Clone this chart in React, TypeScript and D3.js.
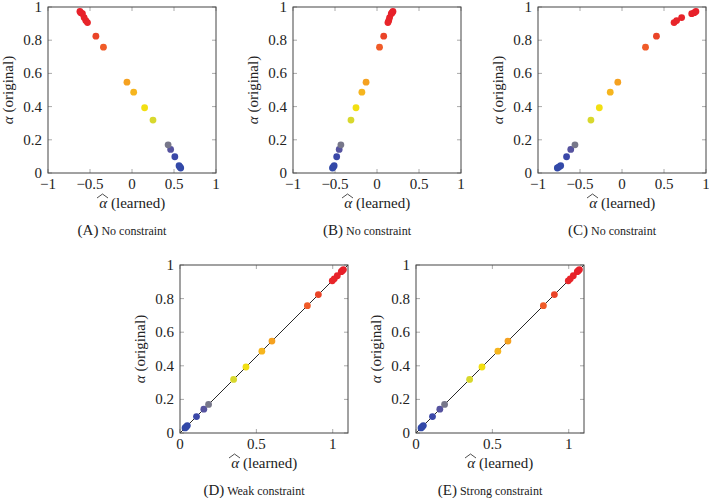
import * as d3 from "d3";

// original alpha values (shared by every panel), low to high
const alphaOriginal = [
  0.03, 0.036, 0.044, 0.098, 0.142, 0.17, 0.319, 0.393, 0.487, 0.547, 0.758,
  0.824, 0.906, 0.918, 0.936, 0.96, 0.966, 0.973,
];

// learned alpha per panel, same order as alphaOriginal
const learnedA = [
  0.58, 0.57, 0.56, 0.51, 0.46, 0.43, 0.25, 0.15, 0.02, -0.06, -0.34, -0.43,
  -0.53, -0.55, -0.57, -0.59, -0.61, -0.62,
];
const learnedB = [
  -0.53, -0.52, -0.51, -0.48, -0.45, -0.43, -0.31, -0.25, -0.18, -0.13, 0.03,
  0.08, 0.13, 0.14, 0.15, 0.17, 0.18, 0.19,
];
const learnedC = [
  -0.77, -0.75, -0.73, -0.66, -0.61, -0.56, -0.37, -0.27, -0.14, -0.05, 0.28,
  0.41, 0.62, 0.65, 0.71, 0.83, 0.86, 0.88,
];
const learnedD = [
  0.033, 0.04, 0.048, 0.108, 0.156, 0.187, 0.351, 0.432, 0.536, 0.602, 0.834,
  0.906, 0.997, 1.01, 1.03, 1.056, 1.063, 1.07,
];
const learnedE = [
  0.033, 0.04, 0.048, 0.108, 0.156, 0.187, 0.351, 0.432, 0.536, 0.602, 0.834,
  0.906, 0.997, 1.01, 1.03, 1.056, 1.063, 1.07,
];

// reference line for the constrained panels: learned = 1.1 * original
const fitLine: [number, number][] = [
  [0, 0],
  [1.1, 1],
];

const xTicksFree = [-1, -0.5, 0, 0.5, 1];
const xTicksConstrained = [0, 0.5, 1];
const yTicks = [0, 0.2, 0.4, 0.6, 0.8, 1];

const color = d3
  .scaleLinear<string>()
  .domain([0, 0.1, 0.14, 0.17, 0.32, 0.39, 0.49, 0.55, 0.76, 0.82, 0.9, 1])
  .range([
    "#2d4aa8",
    "#3b48a8",
    "#5450a0",
    "#77778a",
    "#d9d92c",
    "#f2e012",
    "#f6b41e",
    "#f5a020",
    "#f05a28",
    "#ea4628",
    "#e8262a",
    "#e61e2a",
  ]);

const fmt = (t: number) => (t < 0 ? "\u2212" + Math.abs(t) : String(t));
const serif = { fontFamily: "Liberation Serif, DejaVu Serif, serif" };

type PanelProps = {
  left: number;
  top: number;
  width: number;
  height: number;
  xDomain: [number, number];
  xTicks: number[];
  learned: number[];
  letter: string;
  caption: string;
  line?: boolean;
};

function Panel({
  left,
  top,
  width,
  height,
  xDomain,
  xTicks,
  learned,
  letter,
  caption,
  line,
}: PanelProps) {
  const x = d3.scaleLinear().domain(xDomain).range([0, width]);
  const y = d3.scaleLinear().domain([0, 1]).range([height, 0]);
  const path = d3
    .line<[number, number]>()
    .x((d) => x(d[0]))
    .y((d) => y(d[1]));
  const tick = 4;
  // x label: italic alpha with a wide hat, then "(learned)"
  const lx = width / 2 - 25;
  const ly = height + 35;

  return (
    <g transform={`translate(${left},${top})`} style={serif}>
      {xTicks.map((t) => (
        <g key={"x" + t}>
          <line x1={x(t)} x2={x(t)} y1={height} y2={height - tick} stroke="#aaa" />
          <line x1={x(t)} x2={x(t)} y1={0} y2={tick} stroke="#aaa" />
          <text x={x(t)} y={height + 16} fontSize={15} textAnchor="middle" fill="#222" style={serif}>
            {fmt(t)}
          </text>
        </g>
      ))}
      {yTicks.map((t) => (
        <g key={"y" + t}>
          <line x1={0} x2={tick} y1={y(t)} y2={y(t)} stroke="#aaa" />
          <line x1={width} x2={width - tick} y1={y(t)} y2={y(t)} stroke="#aaa" />
          <text x={-6} y={y(t) + 5} fontSize={15} textAnchor="end" fill="#222" style={serif}>
            {fmt(t)}
          </text>
        </g>
      ))}
      {line && <path d={path(fitLine) ?? ""} stroke="#111" strokeWidth={0.9} fill="none" />}
      {alphaOriginal.map((a, i) => (
        <circle key={i} cx={x(learned[i])} cy={y(a)} r={3.4} fill={color(a)} />
      ))}
      <rect x={0} y={0} width={width} height={height} fill="none" stroke="#444" strokeWidth={1} />
      <text
        transform={`translate(-35,${height / 2}) rotate(-90)`}
        textAnchor="middle"
        fontSize={15}
        fill="#222"
        style={serif}
      >
        <tspan fontStyle="italic">α</tspan> (original)
      </text>
      <text x={lx} y={ly} textAnchor="end" fontSize={15} fontStyle="italic" fill="#222" style={serif}>
        α
      </text>
      <path
        d={`M${lx - 10},${ly - 10} L${lx - 4.5},${ly - 14} L${lx + 1},${ly - 10}`}
        fill="none"
        stroke="#222"
        strokeWidth={0.8}
      />
      <text x={lx + 4} y={ly} textAnchor="start" fontSize={15} fill="#222" style={serif}>
        (learned)
      </text>
      <text x={width / 2 - 10} y={height + 62} textAnchor="middle" fill="#222" style={serif}>
        <tspan fontSize={15}>({letter})</tspan>
        <tspan fontSize={12}> {caption}</tspan>
      </text>
    </g>
  );
}

export default function App() {
  return (
    <svg
      width={709}
      height={498}
      style={{ position: "absolute", left: 0, top: 0, background: "#fff" }}
    >
      <Panel left={48} top={7} width={168} height={166} xDomain={[-1, 1]} xTicks={xTicksFree} learned={learnedA} letter="A" caption="No constraint" />
      <Panel left={293} top={7} width={168} height={166} xDomain={[-1, 1]} xTicks={xTicksFree} learned={learnedB} letter="B" caption="No constraint" />
      <Panel left={538} top={7} width={168} height={166} xDomain={[-1, 1]} xTicks={xTicksFree} learned={learnedC} letter="C" caption="No constraint" />
      <Panel left={180} top={265} width={168} height={168} xDomain={[0, 1.1]} xTicks={xTicksConstrained} learned={learnedD} letter="D" caption="Weak constraint" line />
      <Panel left={416} top={265} width={168} height={168} xDomain={[0, 1.1]} xTicks={xTicksConstrained} learned={learnedE} letter="E" caption="Strong constraint" line />
    </svg>
  );
}
